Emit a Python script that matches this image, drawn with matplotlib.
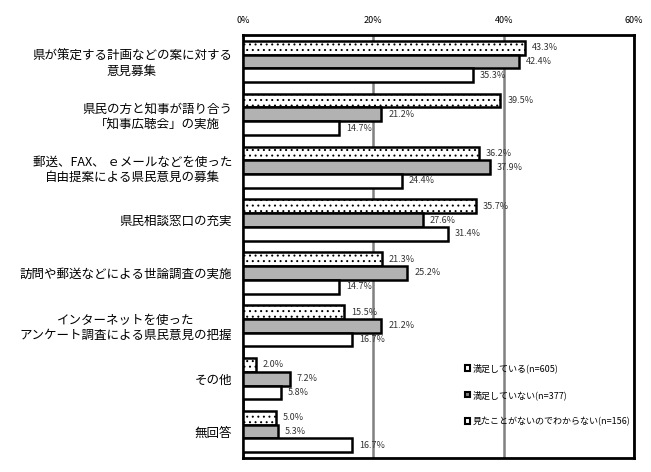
import matplotlib.pyplot as plt
import numpy as np
from matplotlib.patches import Patch

plt.rcParams['font.family'] = ['Noto Sans CJK JP', 'DejaVu Sans']
plt.rcParams['hatch.linewidth'] = 0.7

categories = [
    "県が策定する計画などの案に対する\n意見募集",
    "県民の方と知事が語り合う\n「知事広聴会」の実施",
    "郵送、FAX、 ｅメールなどを使った\n自由提案による県民意見の募集",
    "県民相談窓口の充実",
    "訪問や郵送などによる世論調査の実施",
    "インターネットを使った\nアンケート調査による県民意見の把握",
    "その他",
    "無回答",
]
satisfied = [43.3, 39.5, 36.2, 35.7, 21.3, 15.5, 2.0, 5.0]
not_satisfied = [42.4, 21.2, 37.9, 27.6, 25.2, 21.2, 7.2, 5.3]
never_seen = [35.3, 14.7, 24.4, 31.4, 14.7, 16.7, 5.8, 16.7]
series_names = ["満足している(n=605)", "満足していない(n=377)", "見たことがないのでわからない(n=156)"]
x_ticks = [0, 20, 40, 60]

fig = plt.figure(figsize=(6.51, 4.72), dpi=100)
ax = fig.add_axes([0.3733, 0.0297, 0.6006, 0.8961])

y = np.arange(len(categories))
h = 0.26
styles = [
    dict(facecolor="white", hatch="..."),
    dict(facecolor="#b2b2b2"),
    dict(facecolor="white"),
]
for k, vals in enumerate([satisfied, not_satisfied, never_seen]):
    pos = y + (k - 1) * h
    ax.barh(pos, vals, height=h, edgecolor="black", linewidth=1.8, zorder=3, **styles[k])
    for p, v in zip(pos, vals):
        ax.annotate(f"{v:.1f}%", (v, p), xytext=(5, 0), textcoords="offset points",
                    va="center", ha="left", fontsize=6.5, color="#333333", zorder=4)

ax.set_xlim(0, 60)
ax.set_ylim(len(categories) - 0.5, -0.5)
ax.set_xticks(x_ticks)
ax.set_xticklabels([f"{t}%" for t in x_ticks], fontsize=6.5)
ax.xaxis.tick_top()
ax.tick_params(axis="x", length=0, pad=7)
ax.set_yticks(y)
ax.set_yticklabels(categories, fontsize=9, ha="right", multialignment="center")
ax.tick_params(axis="y", length=0, pad=8)
ax.grid(axis="x", color="#808080", linewidth=1.8, zorder=1)
for s in ax.spines.values():
    s.set_linewidth(2)

handles = [Patch(edgecolor="black", linewidth=1.5, facecolor="white"),
           Patch(edgecolor="black", linewidth=1.5, facecolor="#808080"),
           Patch(edgecolor="black", linewidth=1.5, facecolor="white")]
ax.legend(handles, series_names, loc="upper left", bbox_to_anchor=(0.555, 0.235),
          frameon=False, fontsize=6.5, handlelength=0.6, handleheight=0.6,
          handletextpad=0.3, labelspacing=1.9, borderpad=0)

plt.savefig("out.png", dpi=100)
